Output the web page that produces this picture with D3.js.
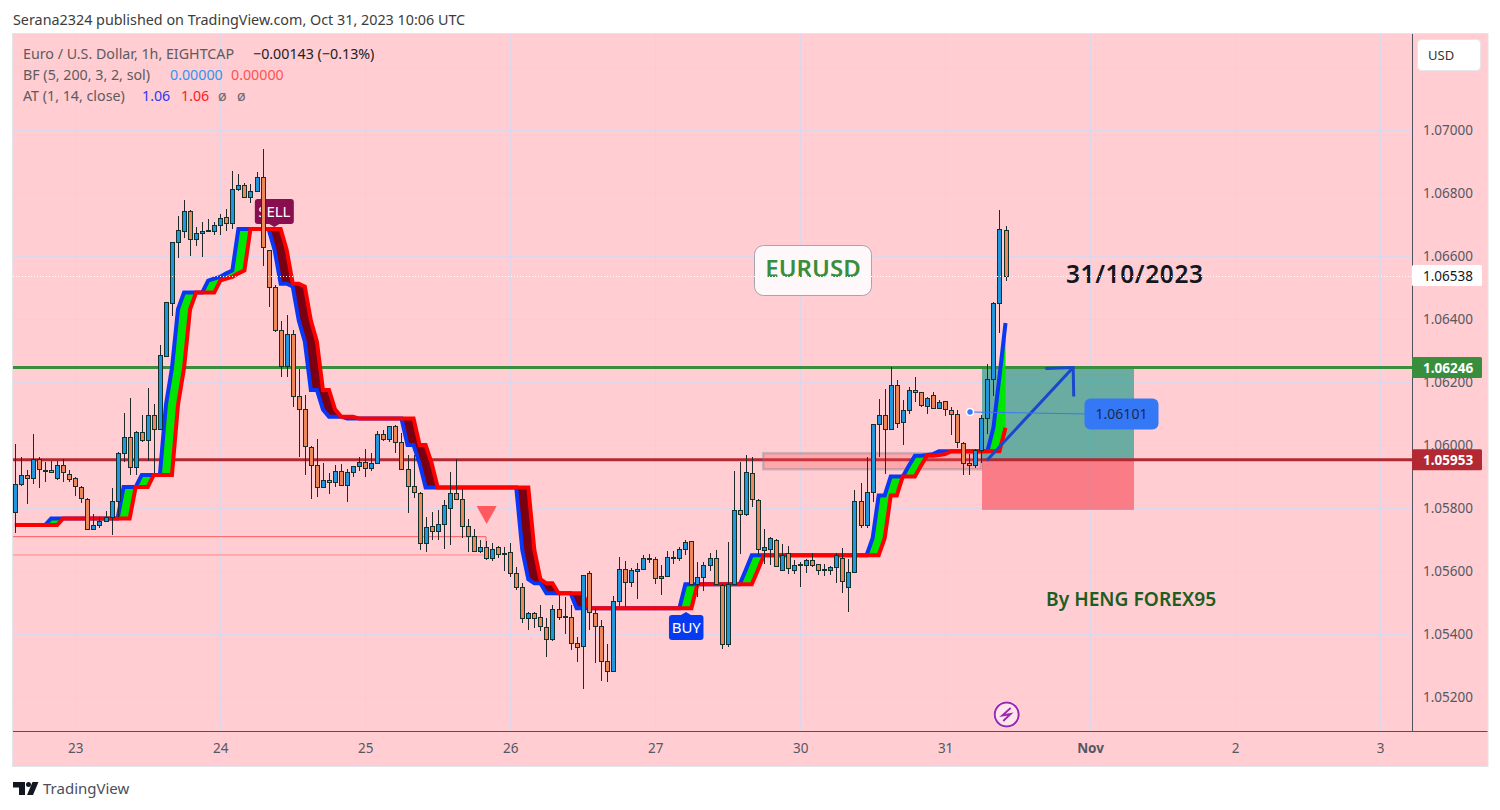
<!DOCTYPE html>
<html><head><meta charset="utf-8">
<script src="https://cdn.jsdelivr.net/npm/d3@7/dist/d3.min.js"></script>
<style>html,body{margin:0;padding:0;background:#fff;overflow:hidden}svg{display:block}text{font-family:"Noto Sans",sans-serif}</style>
</head><body><svg id="c" width="1500" height="810"></svg>
<script>
const opens=[
1.05787,1.05875,1.05906,1.05894,1.05955,1.05922,1.05920,1.05894,1.05935,1.05909,
1.05894,1.05868,1.05828,1.05732,1.05747,1.05758,1.05771,1.05821,1.05974,1.06024,
1.05929,1.06040,1.06015,1.06094,1.06050,1.06284,1.06450,1.06643,1.06678,1.06742,
1.06653,1.06672,1.06682,1.06678,1.06697,1.06723,1.06704,1.06812,1.06824,1.06786,
1.06805,1.06850,1.06618,1.06501,1.06364,1.06250,1.06351,1.06155,1.06113,1.05993,
1.05938,1.05866,1.05888,1.05882,1.05916,1.05872,1.05914,1.05933,1.05947,1.05926,
1.05942,1.06034,1.06018,1.06060,1.06009,1.05923,1.05869,1.05849,1.05688,1.05742,
1.05726,1.05749,1.05799,1.05847,1.05828,1.05742,1.05710,1.05665,1.05676,1.05640,
1.05676,1.05653,1.05660,1.05593,1.05548,1.05450,1.05466,1.05453,1.05421,1.05383,
1.05478,1.05456,1.05453,1.05371,1.05361,1.05593,1.05466,1.05425,1.05313,1.05282,
1.05504,1.05605,1.05564,1.05599,1.05605,1.05640,1.05637,1.05577,1.05583,1.05644,
1.05640,1.05669,1.05694,1.05558,1.05580,1.05618,1.05640,1.05555,1.05368,1.05558,
1.05793,1.05780,1.05910,1.05825,1.05668,1.05671,1.05700,1.05602,1.05656,1.05604,
1.05621,1.05620,1.05634,1.05621,1.05605,1.05604,1.05612,1.05640,1.05548,1.05596,
1.05821,1.05745,1.05850,1.06066,1.06094,1.06050,1.06189,1.06072,1.06110,1.06174,
1.06167,1.06123,1.06158,1.06116,1.06139,1.06110,1.06097,1.06005,1.05942,1.05935,
1.05983,1.06085,1.06209,1.06450,1.06682];
const highs=[
1.06003,1.05961,1.05921,1.06035,1.05961,1.05946,1.05950,1.05950,1.05955,1.05921,
1.05900,1.05870,1.05831,1.05781,1.05770,1.05790,1.05863,1.05978,1.06101,1.06149,
1.06044,1.06095,1.06181,1.06130,1.06318,1.06453,1.06644,1.06727,1.06778,1.06746,
1.06691,1.06707,1.06717,1.06707,1.06733,1.06749,1.06869,1.06860,1.06831,1.06828,
1.06867,1.06940,1.06618,1.06508,1.06393,1.06413,1.06365,1.06241,1.06158,1.05997,
1.06018,1.05942,1.05910,1.05937,1.05939,1.05923,1.05933,1.05963,1.05988,1.05976,
1.06045,1.06048,1.06061,1.06064,1.06037,1.05969,1.05968,1.05850,1.05771,1.05788,
1.05794,1.05826,1.05915,1.05956,1.05860,1.05765,1.05733,1.05699,1.05696,1.05688,
1.05678,1.05675,1.05688,1.05612,1.05561,1.05469,1.05469,1.05492,1.05451,1.05492,
1.05524,1.05517,1.05492,1.05392,1.05586,1.05600,1.05482,1.05445,1.05368,1.05521,
1.05646,1.05632,1.05609,1.05624,1.05651,1.05653,1.05646,1.05619,1.05662,1.05662,
1.05675,1.05699,1.05695,1.05628,1.05630,1.05656,1.05667,1.05558,1.05691,1.05918,
1.05947,1.05968,1.05961,1.05828,1.05733,1.05707,1.05701,1.05685,1.05680,1.05635,
1.05628,1.05637,1.05656,1.05621,1.05621,1.05617,1.05656,1.05672,1.05638,1.05857,
1.05878,1.05961,1.06066,1.06145,1.06177,1.06247,1.06206,1.06143,1.06185,1.06215,
1.06169,1.06153,1.06169,1.06143,1.06141,1.06122,1.06110,1.06008,1.05971,1.05986,
1.06095,1.06257,1.06454,1.06746,1.06695];
const lows=[
1.05722,1.05871,1.05813,1.05876,1.05864,1.05881,1.05910,1.05889,1.05884,1.05884,
1.05838,1.05817,1.05732,1.05732,1.05737,1.05754,1.05715,1.05773,1.05947,1.05906,
1.05906,1.06008,1.05950,1.05910,1.06048,1.06281,1.06410,1.06594,1.06656,1.06600,
1.06632,1.06598,1.06677,1.06666,1.06666,1.06680,1.06686,1.06807,1.06784,1.06769,
1.06803,1.06568,1.06439,1.06360,1.06217,1.06217,1.06122,1.05963,1.05906,1.05830,
1.05836,1.05865,1.05846,1.05868,1.05870,1.05820,1.05898,1.05916,1.05897,1.05918,
1.05942,1.06014,1.06008,1.05976,1.05921,1.05783,1.05833,1.05667,1.05659,1.05697,
1.05697,1.05669,1.05681,1.05826,1.05706,1.05659,1.05659,1.05657,1.05635,1.05633,
1.05641,1.05601,1.05580,1.05540,1.05436,1.05413,1.05418,1.05411,1.05328,1.05379,
1.05445,1.05400,1.05349,1.05312,1.05225,1.05413,1.05309,1.05252,1.05249,1.05282,
1.05489,1.05487,1.05550,1.05512,1.05603,1.05624,1.05559,1.05525,1.05582,1.05622,
1.05633,1.05651,1.05554,1.05517,1.05538,1.05601,1.05556,1.05353,1.05358,1.05556,
1.05654,1.05776,1.05804,1.05651,1.05622,1.05619,1.05614,1.05600,1.05589,1.05589,
1.05549,1.05595,1.05614,1.05587,1.05585,1.05587,1.05563,1.05529,1.05471,1.05595,
1.05738,1.05735,1.05820,1.05963,1.05908,1.06048,1.06053,1.06000,1.06100,1.06137,
1.06122,1.06097,1.06114,1.06114,1.06093,1.06033,1.05989,1.05905,1.05905,1.05926,
1.05942,1.06034,1.06156,1.06357,1.06521];
const closes=[
1.05875,1.05906,1.05894,1.05954,1.05923,1.05920,1.05913,1.05935,1.05913,1.05891,
1.05869,1.05831,1.05732,1.05747,1.05760,1.05771,1.05821,1.05974,1.06024,1.05929,
1.06042,1.06015,1.06094,1.06050,1.06285,1.06453,1.06643,1.06682,1.06742,1.06653,
1.06672,1.06678,1.06678,1.06697,1.06720,1.06704,1.06812,1.06824,1.06786,1.06805,
1.06850,1.06628,1.06501,1.06364,1.06250,1.06351,1.06155,1.06113,1.05996,1.05936,
1.05866,1.05888,1.05882,1.05917,1.05872,1.05913,1.05933,1.05947,1.05926,1.05942,
1.06034,1.06018,1.06060,1.06009,1.05923,1.05869,1.05850,1.05688,1.05739,1.05726,
1.05749,1.05809,1.05847,1.05828,1.05742,1.05710,1.05663,1.05676,1.05640,1.05669,
1.05653,1.05658,1.05593,1.05548,1.05450,1.05466,1.05452,1.05425,1.05383,1.05478,
1.05453,1.05453,1.05371,1.05358,1.05586,1.05469,1.05425,1.05313,1.05282,1.05504,
1.05605,1.05564,1.05602,1.05605,1.05640,1.05638,1.05577,1.05583,1.05644,1.05640,
1.05669,1.05691,1.05558,1.05580,1.05618,1.05640,1.05558,1.05368,1.05558,1.05793,
1.05780,1.05913,1.05828,1.05669,1.05675,1.05704,1.05615,1.05650,1.05608,1.05618,
1.05618,1.05634,1.05620,1.05602,1.05602,1.05614,1.05650,1.05567,1.05596,1.05821,
1.05745,1.05850,1.06066,1.06094,1.06050,1.06189,1.06069,1.06110,1.06174,1.06167,
1.06126,1.06148,1.06116,1.06135,1.06113,1.06097,1.06008,1.05942,1.05935,1.05983,
1.06085,1.06208,1.06450,1.06685,1.06538];
const redLine=[
1.05746,1.05746,1.05746,1.05746,1.05746,1.05746,1.05746,1.05746,1.05767,1.05767,
1.05767,1.05767,1.05767,1.05767,1.05767,1.05767,1.05767,1.05767,1.05767,1.05767,
1.05867,1.05867,1.05867,1.05905,1.05905,1.05905,1.05905,1.06127,1.06244,1.06431,
1.06484,1.06484,1.06484,1.06484,1.06522,1.06528,1.06534,1.06545,1.06554,1.06686,
1.06686,1.06686,1.06686,1.06686,1.06686,1.06619,1.06512,1.06512,1.06503,1.06395,
1.06328,1.06175,1.06175,1.06113,1.06090,1.06090,1.06090,1.06084,1.06084,1.06084,
1.06084,1.06084,1.06084,1.06084,1.06084,1.06084,1.06084,1.06000,1.06000,1.05942,
1.05865,1.05865,1.05865,1.05865,1.05865,1.05865,1.05865,1.05865,1.05865,1.05865,
1.05865,1.05865,1.05865,1.05865,1.05865,1.05865,1.05667,1.05574,1.05561,1.05561,
1.05529,1.05529,1.05529,1.05529,1.05529,1.05482,1.05482,1.05482,1.05482,1.05482,
1.05482,1.05482,1.05482,1.05482,1.05482,1.05482,1.05482,1.05482,1.05482,1.05482,
1.05482,1.05482,1.05482,1.05558,1.05558,1.05558,1.05558,1.05558,1.05558,1.05558,
1.05558,1.05558,1.05558,1.05603,1.05650,1.05650,1.05650,1.05650,1.05650,1.05650,
1.05650,1.05650,1.05650,1.05650,1.05650,1.05650,1.05650,1.05650,1.05650,1.05650,
1.05650,1.05650,1.05650,1.05650,1.05704,1.05840,1.05840,1.05900,1.05900,1.05900,
1.05934,1.05966,1.05966,1.05968,1.05971,1.05980,1.05980,1.05980,1.05980,1.05980,
1.05980,1.05980,1.05980,1.05980,1.06055];
const blueLine=[
1.05746,1.05746,1.05746,1.05746,1.05746,1.05746,1.05767,1.05767,1.05767,1.05767,
1.05767,1.05767,1.05767,1.05767,1.05767,1.05767,1.05767,1.05767,1.05867,1.05867,
1.05867,1.05905,1.05905,1.05905,1.05905,1.06127,1.06244,1.06431,1.06484,1.06484,
1.06484,1.06484,1.06522,1.06528,1.06534,1.06545,1.06554,1.06686,1.06686,1.06686,
1.06686,1.06686,1.06686,1.06619,1.06512,1.06512,1.06503,1.06395,1.06328,1.06175,
1.06175,1.06113,1.06090,1.06090,1.06090,1.06084,1.06084,1.06084,1.06084,1.06084,
1.06084,1.06084,1.06084,1.06084,1.06084,1.06000,1.06000,1.05942,1.05865,1.05865,
1.05865,1.05865,1.05865,1.05865,1.05865,1.05865,1.05865,1.05865,1.05865,1.05865,
1.05865,1.05865,1.05865,1.05865,1.05667,1.05574,1.05561,1.05561,1.05529,1.05529,
1.05529,1.05529,1.05529,1.05482,1.05482,1.05482,1.05482,1.05482,1.05482,1.05482,
1.05482,1.05482,1.05482,1.05482,1.05482,1.05482,1.05482,1.05482,1.05482,1.05482,
1.05482,1.05558,1.05558,1.05558,1.05558,1.05558,1.05558,1.05558,1.05558,1.05558,
1.05558,1.05603,1.05650,1.05650,1.05650,1.05650,1.05650,1.05650,1.05650,1.05650,
1.05650,1.05650,1.05650,1.05650,1.05650,1.05650,1.05650,1.05650,1.05650,1.05650,
1.05650,1.05650,1.05704,1.05840,1.05840,1.05900,1.05900,1.05900,1.05934,1.05966,
1.05966,1.05968,1.05971,1.05980,1.05980,1.05980,1.05980,1.05980,1.05980,1.05980,
1.05980,1.05980,1.06055,1.06217,1.06387];
const priceTicks=[1.052,1.054,1.056,1.058,1.060,1.062,1.064,1.066,1.068,1.070];
const priceGrid=[1.052,1.054,1.056,1.058,1.060,1.062,1.064,1.066,1.068,1.070,1.072];
const dayIndex=[10,34,58,82,106,130,154,178,202,226];
const dayLabels=["23","24","25","26","27","30","31","Nov","2","3"];
const lastPrice=1.06538, greenLevel=1.06246, redLevel=1.05953, calloutPrice=1.06101;
const header="Serana2324 published on TradingView.com, Oct 31, 2023 10:06 UTC";

const svg=d3.select("#c");
const L=13,R=1487.5,T=34,B=766,SEP=1412,AXB=731;
const x=d3.scaleLinear().domain([0,226]).range([14.9,1380]);
const y=d3.scaleLinear().domain([1.052,1.07]).range([697,130]);
const px=v=>Math.round(x(v))+0.5, py=v=>Math.round(y(v))+0.5;

svg.append("defs").append("clipPath").attr("id","plot").append("rect")
  .attr("x",L).attr("y",T).attr("width",SEP-L).attr("height",AXB-T);
svg.append("rect").attr("x",L-0.5).attr("y",T-0.5).attr("width",R-L+1).attr("height",B-T+1)
  .attr("fill","#FFCDD2").attr("stroke","#E3E3EA").attr("stroke-width",1);

const GRID="#DDD6EA";
const plot=svg.append("g").attr("clip-path","url(#plot)");
// grid via axes
const gx=plot.append("g").attr("transform",`translate(0,${AXB})`)
  .call(d3.axisBottom(x).tickValues(dayIndex).tickSize(-(AXB-T)).tickFormat(""));
const gy=plot.append("g").attr("transform",`translate(${L},0)`)
  .call(d3.axisRight(y).tickValues(priceGrid).tickSize(SEP-L).tickFormat(""));
[gx,gy].forEach(g=>{g.select(".domain").remove();g.selectAll("line").attr("stroke",GRID).attr("shape-rendering","crispEdges");});

// thin order lines
plot.append("path").attr("d",`M${L},${y(1.05709)}H${x(78)}V${y(1.05677)}`).attr("fill","none").attr("stroke","#FF5A5F").attr("stroke-width",1);
plot.append("line").attr("x1",L).attr("x2",x(77.6)).attr("y1",y(1.05651)).attr("y2",y(1.05651)).attr("stroke","#FF8A8E").attr("stroke-width",1);
// triangle
const tc=x(78.1);
plot.append("path").attr("d",`M${tc-10},${y(1.05806)}H${tc+10}L${tc},${y(1.05749)}Z`).attr("fill","#FF5A5F");
// long position
plot.append("rect").attr("x",982).attr("y",y(greenLevel)).attr("width",152).attr("height",y(redLevel)-y(greenLevel)).attr("fill","rgba(8,150,130,0.6)");
plot.append("rect").attr("x",982).attr("y",y(redLevel)).attr("width",152).attr("height",y(1.05794)-y(redLevel)).attr("fill","rgba(247,70,85,0.6)");
// levels
[[greenLevel,"#388E3C"],[redLevel,"#B22833"]].forEach(([v,c])=>{
  plot.append("line").attr("x1",L).attr("x2",SEP).attr("y1",y(v)).attr("y2",y(v)).attr("stroke",c).attr("stroke-width",3);
});
// grey box (over the red level, as in the reference)
plot.append("rect").attr("x",x(123.9)).attr("y",y(1.05974)).attr("width",x(160)-x(123.9)).attr("height",y(1.05923)-y(1.05974))
  .attr("fill","rgba(255,82,82,0.3)").attr("stroke","rgba(120,123,134,0.35)").attr("stroke-width",2.5);
// band
const idx=d3.range(opens.length);
const areaG=d3.area().x(i=>x(i)).y0(i=>y(redLine[i])).y1(i=>y(Math.max(blueLine[i],redLine[i])));
const areaD=d3.area().x(i=>x(i)).y0(i=>y(redLine[i])).y1(i=>y(Math.min(blueLine[i],redLine[i])));
plot.append("path").attr("d",areaG(idx)).attr("fill","#00E600");
plot.append("path").attr("d",areaD(idx)).attr("fill","#7B0012");
const lineOf=a=>d3.line().x(i=>x(i)).y(i=>y(a[i]));
plot.append("path").attr("d",lineOf(blueLine)(idx)).attr("fill","none").attr("stroke","#0A36F5").attr("stroke-width",4);
plot.append("path").attr("d",lineOf(redLine)(idx)).attr("fill","none").attr("stroke","#FF0000").attr("stroke-width",4);
// SELL / BUY labels (under the candles)
const sx=x(42.95);
plot.append("path").attr("d",`M${sx-5},224L${sx},227L${sx+5},224Z`).attr("fill","#880E4F");
plot.append("rect").attr("x",sx-19.5).attr("y",199).attr("width",39).attr("height",25).attr("rx",3).attr("fill","#880E4F");
plot.append("text").attr("x",sx).attr("y",216.5).attr("text-anchor","middle").attr("font-size",15).attr("fill","#fff").text("SELL");
// candles
const wick=plot.append("g"), body=plot.append("g");
wick.selectAll("line").data(idx).join("line")
  .attr("x1",px).attr("x2",px).attr("y1",i=>y(highs[i])).attr("y2",i=>y(lows[i]))
  .attr("stroke","#1E2A2A").attr("stroke-width",1).attr("shape-rendering","crispEdges");
body.selectAll("rect").data(idx).join("rect")
  .attr("x",i=>px(i)-2).attr("width",4)
  .attr("y",i=>py(Math.max(opens[i],closes[i])))
  .attr("height",i=>Math.max(1,py(Math.min(opens[i],closes[i]))-py(Math.max(opens[i],closes[i]))))
  .attr("fill",i=>closes[i]>=opens[i]?"#2196DC":"#EB875A")
  .attr("stroke","#14302A").attr("stroke-width",1).attr("shape-rendering","crispEdges");
// BUY
const bx=x(111.1);
plot.append("path").attr("d",`M${bx-5},615L${bx},612L${bx+5},615Z`).attr("fill","#063AF0");
plot.append("rect").attr("x",bx-17).attr("y",615).attr("width",34.5).attr("height",25).attr("rx",3).attr("fill","#063AF0");
plot.append("text").attr("x",bx+0.3).attr("y",632.5).attr("text-anchor","middle").attr("font-size",15).attr("fill","#fff").text("BUY");
// arrow
const arrowBlue="#1848CC";
plot.append("path").attr("d",`M${x(160.9)},${y(1.05951)}L${x(175.2)},${y(1.06246)}`).attr("stroke",arrowBlue).attr("stroke-width",3).attr("fill","none");
plot.append("path").attr("d",`M${x(170.6)},${y(1.06243)}L${x(175.2)},${y(1.06246)}L${x(175.3)},${y(1.06154)}`).attr("stroke",arrowBlue).attr("stroke-width",3).attr("fill","none");
// callout
plot.append("line").attr("x1",970).attr("y1",412).attr("x2",1090).attr("y2",414).attr("stroke","#3478F6").attr("stroke-width",1);
plot.append("circle").attr("cx",970).attr("cy",412).attr("r",3.5).attr("fill","#3478F6").attr("stroke","#fff").attr("stroke-width",1.5);
plot.append("rect").attr("x",1084.5).attr("y",398.5).attr("width",74).attr("height",31).attr("rx",6).attr("fill","#3478F6");
plot.append("text").attr("x",1121.5).attr("y",419).attr("text-anchor","middle").attr("font-size",14).attr("fill","#1E2A4A").text(calloutPrice.toFixed(5));
// text annotations
plot.append("rect").attr("x",754.5).attr("y",245.5).attr("width",117).attr("height",50).attr("rx",9).attr("fill","#FFF8FA").attr("stroke","#A9A3AC").attr("stroke-width",1);
plot.append("text").attr("x",813).attr("y",277).attr("text-anchor","middle").attr("font-size",24).attr("font-weight",600).attr("fill","#388E3C").text("EURUSD");
plot.append("text").attr("x",1066).attr("y",283).attr("font-size",24.5).attr("font-weight",600).attr("fill","#131722").attr("letter-spacing",0.6).text("31/10/2023");
plot.append("text").attr("x",1046).attr("y",606).attr("font-size",19.2).attr("font-weight",600).attr("fill","#1B5E20").text("By HENG FOREX95");
// last price dotted
plot.append("line").attr("x1",L).attr("x2",SEP).attr("y1",py(lastPrice)).attr("y2",py(lastPrice)).attr("stroke","#fff").attr("stroke-width",1).attr("stroke-dasharray","1 2");
// lightning
const lg=plot.append("g").attr("transform","translate(1006.7,714.5)");
lg.append("circle").attr("r",13.5).attr("fill","#fff");
lg.append("circle").attr("r",12).attr("fill","#FFE6EA").attr("stroke","#9C27B0").attr("stroke-width",2);
lg.append("path").attr("d","M4,-6.5L-4.5,1L4,-0.5L-3.5,6.5").attr("fill","none").attr("stroke","#9C27B0").attr("stroke-width",1.8);

// separators
svg.append("line").attr("x1",SEP+0.5).attr("x2",SEP+0.5).attr("y1",T).attr("y2",AXB).attr("stroke","#50535E");
svg.append("line").attr("x1",L).attr("x2",R).attr("y1",AXB+0.5).attr("y2",AXB+0.5).attr("stroke","#50535E");

// price axis
const ax=svg.append("g").attr("transform",`translate(${SEP},0)`)
  .call(d3.axisRight(y).tickValues(priceTicks).tickSize(0).tickPadding(11).tickFormat(d3.format(".5f")));
ax.select(".domain").remove();
ax.selectAll("text").attr("font-size",13.5).attr("fill","#555863").style("font-family",'"Noto Sans",sans-serif');
// time axis
const tx=svg.append("g").attr("transform",`translate(0,${AXB})`)
  .call(d3.axisBottom(x).tickValues(dayIndex).tickSize(0).tickPadding(12).tickFormat((d,i)=>dayLabels[i]));
tx.select(".domain").remove();
tx.selectAll("text").attr("font-size",13.5).attr("fill","#555863").style("font-family",'"Noto Sans",sans-serif')
  .attr("font-weight",(d,i)=>dayLabels[i]==="Nov"?700:400);
// badges
[[lastPrice,"#fff","#131722",400],[greenLevel,"#388E3C","#fff",700],[redLevel,"#B22833","#fff",700]].forEach(([v,bg,fg,w])=>{
  svg.append("rect").attr("x",SEP).attr("y",y(v)-10.5).attr("width",70).attr("height",21).attr("rx",1.5).attr("fill",bg);
  svg.append("text").attr("x",SEP+11).attr("y",y(v)+5).attr("font-size",13.5).attr("font-weight",w).attr("fill",fg).text(v.toFixed(5));
});
// USD
svg.append("rect").attr("x",1417.5).attr("y",39.5).attr("width",63).attr("height",31).attr("rx",4).attr("fill","#fff").attr("stroke","#E8E4EC");
svg.append("text").attr("x",1428).attr("y",59.5).attr("font-size",13).attr("fill","#333").text("USD");

// header
svg.append("text").attr("x",13).attr("y",24.5).attr("font-size",14.35).attr("fill","#3C3C3C").text(header);
// legend
const leg=(xx,yy,t,c,w)=>svg.append("text").attr("x",xx).attr("y",yy).attr("font-size",14.25).attr("fill",c).attr("font-weight",w||400).text(t);
leg(23,59,"Euro / U.S. Dollar, 1h, EIGHTCAP","#5D5B5E");
leg(253,59,"\u22120.00143 (\u22120.13%)","#222");
leg(23,80,"BF (5, 200, 3, 2, sol)","#5D5B5E");
leg(170,80,"0.00000","#2E96F0");
leg(231,80,"0.00000","#FF5252");
leg(23,101,"AT (1, 14, close)","#5D5B5E");
leg(142,101,"1.06","#2D3BF0");
leg(181,101,"1.06","#FF1A1A");
leg(218,101,"\u00F8","#6A686B");
leg(237,101,"\u00F8","#6A686B");
// logo
const logo=svg.append("g").attr("fill","#131722");
logo.append("path").attr("d","M13,782H25V795H19V787.5H13Z");
logo.append("circle").attr("cx",28.5).attr("cy",784.5).attr("r",2.5);
logo.append("path").attr("d","M32.5,782H38.5L33,795H27Z");
svg.append("text").attr("x",43).attr("y",794).attr("font-size",15).attr("fill","#4A4E5A").text("TradingView");
</script></body></html>
